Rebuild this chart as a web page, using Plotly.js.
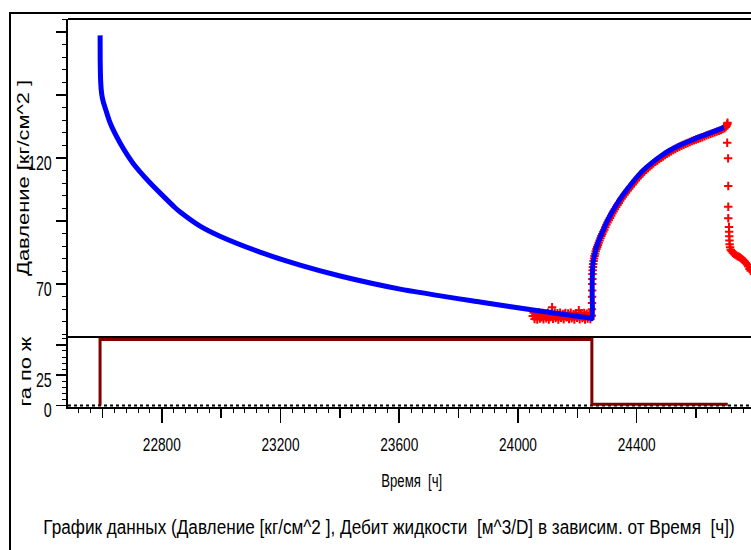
<!DOCTYPE html>
<html>
<head>
<meta charset="utf-8">
<script src="https://cdn.plot.ly/plotly-3.0.1.min.js"></script>
<style>
html,body{margin:0;padding:0;overflow:hidden;background:#fff;width:751px;height:550px;}
#frame{position:absolute;left:9px;top:12px;width:800px;height:600px;border-left:2px solid #000;border-top:2px solid #000;pointer-events:none;z-index:5;}
#chart{position:absolute;left:0;top:0;}
</style>
</head>
<body>
<div id="chart"></div>
<div id="frame"></div>
<script>
// ---- Pressure model curve (blue) ----
var blueTime = [22592.2,22592.5,22594.2,22597.2,22602.3,22609,22626,22660,22703,22761,22804,22845,22862,22929,22996,23131,23266,23401,23603,23872,24074,24243,24249.5,
  24250,24250.5,24253,24259.5,24265,24276,24287,24303,24321,24342,24366,24393,24422,24450,24478,24510,24546,24580,24613,24650,24694];
var bluePressure = [168.7,158.8,150.1,145.7,142.6,140,133.9,125.9,118,110.1,105,100.3,98.6,93,89,82.7,77.5,73.2,68,62.9,59.3,56.5,56.3,
  66,73,78.5,82.3,84.8,88.3,91.4,95.6,99.4,103.4,107.3,111.4,115.2,118,120.5,123,125.2,126.9,128.5,130.1,132.2];

// ---- Measured pressure (red crosses) ----
var redTime = [
  24050,24053,24056,24059,24062,24065,24068,24071,24074,24077,24080,24083,24086,24089,24092,24095,24098,24101,24104,24107,
  24110,24113,24115,24118,24121,24124,24127,24130,24133,24136,24139,24142,24145,24148,24151,24154,24157,24160,24163,24166,
  24169,24172,24175,24178,24181,24184,24187,24190,24193,24196,24199,24202,24205,24208,24211,24214,24217,24220,24223,24226,
  24229,24232,24235,24238,24241,24244,24247,
  24249,24249.3,24249.5,24249.8,24250,24250.3,24250.6,24251,24251.8,24252.5,24253.5,24255,24256.5,24258,24260,24262,24264.5,24267,24269.5,24272,
  24275,24278,24281,24284,24287.5,24291,24294.5,24298,24302,24306,24310,24314,24318,24322,24326.5,24331,24335.5,24340,24344.5,24349,
  24354,24359,24364,24369,24374.5,24380,24385.5,24391,24396.5,24402,24408,24414,24420,24426,24432,24438,24444,24450,24456.5,24463,
  24469.5,24476,24482.5,24489,24495.5,24502,24509,24516,24523,24530,24537,24544,24551,24558,24565,24572,24579,24586,24593,24600,
  24607,24614,24621,24628,24635,24642,24649,24656,24663,24670,24677,24684,24690,24696,24700,24703,24705,24706,
  24705,24708,24708.5,24708.5,24708.5,24711,24711.5,24712,24712.5,24713,24714.5,24717,24720,24724,24728,24732,24736,24740,24744,
  24748,24752,24756,24760,24764,24768,24772,24776,24780,24784];
var redPressure = [
  57.3,58.6,56.1,57.8,58.4,55.9,57.4,58.7,56.3,57.9,56.8,58.5,56.0,57.5,58.2,56.4,57.1,58.6,55.9,57.8,
  56.9,58.3,60.8,56.2,57.6,58.7,56.5,57.2,58.4,55.9,57.7,58.6,56.6,57.3,58.1,56.0,57.9,58.5,56.8,57.0,
  58.3,56.1,57.6,58.6,56.4,57.2,58.0,55.9,57.7,58.4,56.6,57.3,59.6,56.0,57.8,58.3,56.5,57.1,58.5,55.9,
  57.6,58.2,56.3,57.4,58.0,56.1,57.2,
  57.5,60,62.5,65,67.5,70,72,74,75.5,76.8,78,79.2,80.2,81.1,82,83,83.9,84.7,85.5,86.4,
  87.3,88.2,89.1,89.9,90.8,91.6,92.6,93.5,94.4,95.3,96.2,97.1,98,98.8,99.7,100.6,101.4,102.2,103.1,103.9,
  104.7,105.5,106.2,107,107.8,108.6,109.4,110.2,111,111.8,112.6,113.4,114.1,114.8,115.4,116,116.7,117.3,117.9,118.5,
  119,119.6,120.1,120.6,121.2,121.7,122.2,122.7,123.2,123.6,124.1,124.5,124.9,125.3,125.7,126,126.4,126.8,127.1,127.4,
  127.7,128,128.3,128.6,129,129.3,129.6,129.9,130.2,130.5,130.8,131.1,131.5,131.8,132.3,132.8,133.5,134,
  126.1,119.9,108.9,100.7,96.1,92.7,90.8,89.0,87.3,85.8,84.6,83.6,83.0,82.4,82.0,81.7,81.4,81.0,80.9,
  80.6,80.2,79.8,79.4,79.0,78.4,77.8,77.0,76.0,75.3];

// ---- Liquid rate (lower panel step) ----
var rateTime = [22592,22592,24249,24249,24707];
var rateValue = [0,54.5,54.5,1,1];

// ---- axis ticks ----
var xTickVals = [22800,23200,23600,24000,24400];
var xTickText = ['22800','23200','23600','24000','24400'];
var xMidTicks = [22600,23000,23400,23800,24200,24600];
var yTickVals = [70,95,120,145,170];
var yTickText = ['70','','120','',''];
var y2TickVals = [0,25,50];
var y2TickText = ['0','25',''];

var SANS = "'Liberation Sans',Arial,sans-serif";

var traces = [
  {x: redTime, y: redPressure, xaxis:'x', yaxis:'y', mode:'markers', type:'scatter',
   marker:{symbol:'cross-thin-open', size:6, line:{color:'#ff0000', width:2}, color:'#ff0000'},
   hoverinfo:'skip', showlegend:false},
  {x: blueTime, y: bluePressure, xaxis:'x', yaxis:'y', mode:'lines', type:'scatter',
   line:{color:'#0000ff', width:5, shape:'spline', smoothing:0.6},
   hoverinfo:'skip', showlegend:false},
  {x: rateTime, y: rateValue, xaxis:'x', yaxis:'y2', mode:'lines', type:'scatter',
   line:{color:'#800000', width:3},
   hoverinfo:'skip', showlegend:false},
  {x: [], y: [], xaxis:'x3', yaxis:'y2', mode:'lines', type:'scatter', hoverinfo:'skip', showlegend:false}
];

var xRange = [22484, 24802];
var splitFrac = 70/388;

var layout = {
  width: 760, height: 550,
  margin: {l:68, r:4, t:19, b:143},
  paper_bgcolor:'#ffffff', plot_bgcolor:'#ffffff',
  showlegend:false,
  font: {family: SANS, color:'#000', size:17},
  title: {text:'График данных (Давление [кг/см^2 ], Дебит жидкости  [м^3/D] в зависим. от Время  [ч])',
          font:{family:SANS, size:21, color:'#000'},
          xref:'container', yref:'container', x: 389/760, y: 1-527/550, xanchor:'center', yanchor:'middle'},
  xaxis: {domain:[0,1], anchor:'y2', range:xRange, tickmode:'array', tickvals:xTickVals, ticktext:xTickText,
          ticks:'outside', ticklen:14, tickwidth:1.5, tickcolor:'#000',
          showline:true, linewidth:2, linecolor:'#000', showgrid:false, zeroline:false,
          tickfont:{family:SANS, size:19}, ticklabelstandoff:5,
          minor:{tickmode:'linear', tick0:22800, dtick:40, ticklen:4, tickwidth:1, tickcolor:'#000', ticks:'outside', showgrid:false}},
  xaxis3: {overlaying:'x', anchor:'y2', range:xRange, tickmode:'array', tickvals:xMidTicks,
           ticks:'outside', ticklen:10, tickwidth:1.5, tickcolor:'#000', showticklabels:false,
           showline:false, showgrid:false, zeroline:false},
  yaxis: {domain:[splitFrac,1], anchor:'x', range:[49,175.2], tickmode:'array', tickvals:yTickVals, ticktext:yTickText,
          ticks:'outside', ticklen:10, tickwidth:1.5, tickcolor:'#000',
          showline:true, linewidth:2, linecolor:'#000', showgrid:false, zeroline:false,
          tickfont:{family:SANS, size:21}, ticklabelshift:5, ticklabelstandoff:0,
          minor:{tickmode:'linear', tick0:70, dtick:5, ticklen:4, tickwidth:1, tickcolor:'#000', ticks:'outside', showgrid:false}},
  yaxis2: {domain:[0,splitFrac], anchor:'x', range:[-1.2,56.5], tickmode:'array', tickvals:y2TickVals, ticktext:y2TickText,
           ticks:'outside', ticklen:10, tickwidth:1.5, tickcolor:'#000',
           showline:true, linewidth:2, linecolor:'#000', showgrid:false, zeroline:false,
           tickfont:{family:SANS, size:21}, ticklabelshift:4, ticklabelstandoff:0,
           minor:{tickmode:'linear', tick0:0, dtick:5, ticklen:4, tickwidth:1, tickcolor:'#000', ticks:'outside', showgrid:false}},
  shapes: [
    {type:'line', xref:'paper', yref:'paper', x0:0, x1:1, y0:1, y1:1, line:{color:'#000', width:2}},
    {type:'line', xref:'paper', yref:'paper', x0:0, x1:1, y0:splitFrac, y1:splitFrac, line:{color:'#000', width:2}},
    {type:'line', xref:'paper', yref:'y2', x0:0, x1:1, y0:0, y1:0, layer:'below', line:{color:'#000', width:2, dash:'dot'}}
  ],
  annotations: [
    {text:'Давление [кг/см^2 ]', xref:'paper', yref:'paper', x:0, y:(1+splitFrac)/2, xshift:-45,
     textangle:-90, showarrow:false, xanchor:'center', yanchor:'middle', font:{family:SANS, size:17, color:'#000'}},
    {text:'га по ж', xref:'paper', yref:'paper', x:0, y:splitFrac/2, xshift:-43,
     textangle:-90, showarrow:false, xanchor:'center', yanchor:'middle', font:{family:SANS, size:17, color:'#000'}},
    {text:'Время  [ч]', xref:'paper', yref:'paper', x:0.5, y:0, yshift:-74,
     showarrow:false, xanchor:'center', yanchor:'middle', font:{family:SANS, size:18, color:'#000'}}
  ]
};

function fitText(el, len) {
  if (!el) return;
  el.setAttribute('textLength', len);
  el.setAttribute('lengthAdjust', 'spacingAndGlyphs');
}
function squeeze(sel, factor) {
  document.querySelectorAll(sel).forEach(function(t){
    var w = t.getComputedTextLength();
    if (w > 0) fitText(t, w * factor);
  });
}
function scaleX(el, len) {
  if (!el) return;
  var w = el.getComputedTextLength();
  var x = parseFloat(el.getAttribute('x')) || 0;
  var s = len / w;
  var prev = el.getAttribute('transform') || '';
  el.setAttribute('transform', prev + ' translate(' + x + ',0) scale(' + s + ',1) translate(' + (-x) + ',0)');
}

Plotly.newPlot('chart', traces, layout, {staticPlot:true, displayModeBar:false}).then(function(){
  squeeze('.xtick text', 0.72);
  squeeze('.ytick text', 0.68);
  squeeze('.y2tick text', 0.68);
  scaleX(document.querySelector('.gtitle'), 692);
  var ann = document.querySelectorAll('.annotation-text');
  fitText(ann[0], 196);
  fitText(ann[1], 70);
  fitText(ann[2], 61);
});
</script>
</body>
</html>
